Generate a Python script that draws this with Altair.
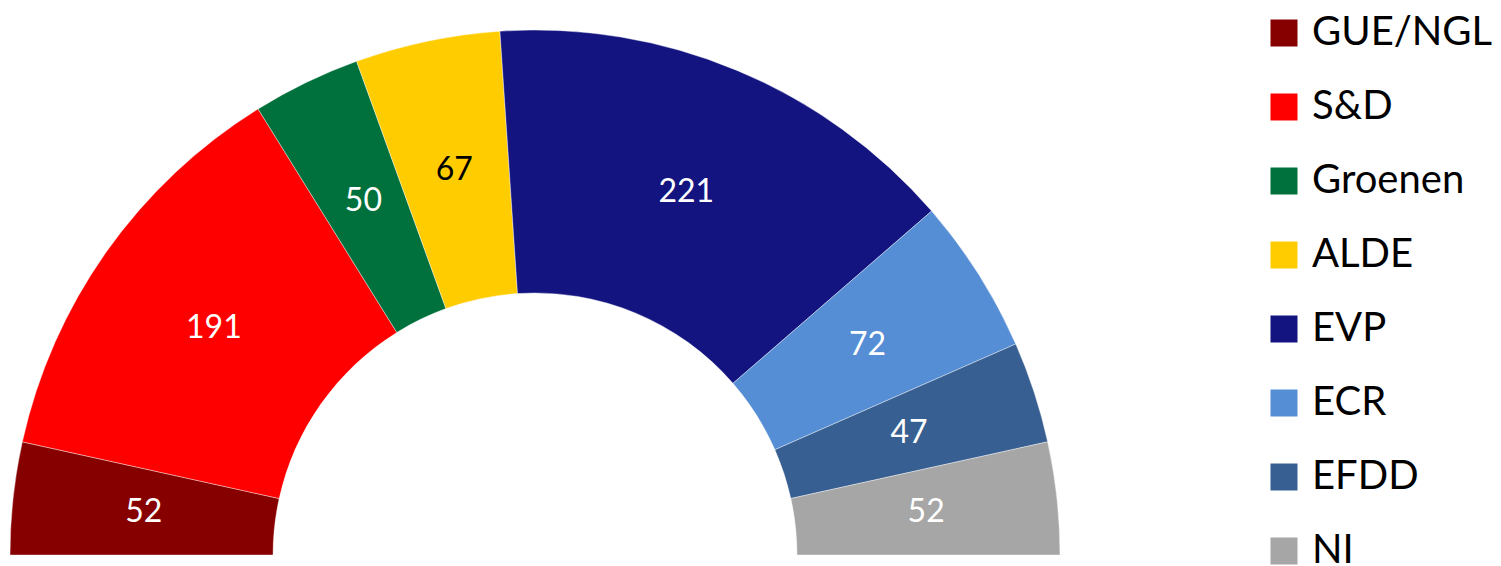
import altair as alt
import pandas as pd
import math

parties = ["GUE/NGL", "S&D", "Groenen", "ALDE", "EVP", "ECR", "EFDD", "NI"]
seats = [52, 191, 50, 67, 221, 72, 47, 52]
colors = ["#870000", "#FF0000", "#00703C", "#FFCC00", "#131480", "#558ED5", "#375F92", "#A6A6A6"]
text_colors = ["white", "white", "white", "black", "white", "white", "white", "white"]

df = pd.DataFrame({
    "party": parties,
    "seats": seats,
    "order": list(range(len(parties))),
    "tcolor": text_colors,
})

theta = alt.Theta("seats:Q", stack=True,
                  scale=alt.Scale(range=[-math.pi / 2, math.pi / 2]))

base = alt.Chart(df).encode(
    theta=theta,
    order=alt.Order("order:Q"),
)

arcs = base.mark_arc(radius=525, radius2=262, stroke="white", strokeWidth=0.4).encode(
    x=alt.value(535),
    y=alt.value(555),
    color=alt.Color(
        "party:N",
        sort=parties,
        scale=alt.Scale(domain=parties, range=colors),
        legend=alt.Legend(
            title=None,
            orient="none",
            legendX=1264,
            legendY=13,
            padding=0,
            symbolType="square",
            symbolSize=729,
            symbolStrokeWidth=0,
            labelFont="Lato",
            labelFontSize=40,
            labelColor="black",
            labelOffset=8,
            rowPadding=34,
            labelLimit=300,
        ),
    ),
)

labels = base.mark_text(radius=393.5, font="Lato", fontSize=32).encode(
    x=alt.value(535),
    y=alt.value(555),
    text="seats:Q",
    color=alt.Color("tcolor:N", scale=None),
)

chart = (arcs + labels).properties(
    width=1501, height=566, padding=0,
    autosize=alt.AutoSizeParams(type="none"),
).configure_view(stroke=None)

chart.save("out.html", embed_options={"renderer": "svg", "actions": False})
